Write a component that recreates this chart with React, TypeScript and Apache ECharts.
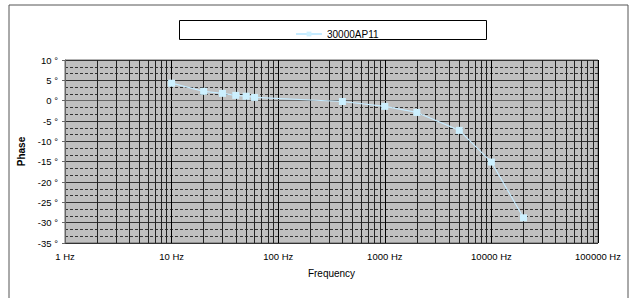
import React, { useEffect, useRef } from "react";
import * as echarts from "echarts";

const seriesName = "30000AP11";
const frequencies = [10, 20, 30, 40, 50, 60, 400, 1000, 2000, 5000, 10000, 20000];
const phases = [4.3, 2.3, 1.8, 1.3, 1.1, 0.8, -0.2, -1.4, -2.9, -7.3, -15.1, -28.8];
const minorFreqs: number[] = [];
for (const dec of [1, 10, 100, 1000, 10000]) {
  for (const m of [2, 3, 4, 5, 6, 7, 8, 9]) minorFreqs.push(m * dec);
}

export default function App() {
  const ref = useRef<HTMLDivElement>(null);
  useEffect(() => {
    if (!ref.current) return;
    const chart = echarts.init(ref.current, null, { renderer: "svg" });
    const font = "Liberation Sans, Arial, sans-serif";
    chart.setOption({
      animation: false,
      backgroundColor: "#ffffff",
      textStyle: { fontFamily: font },
      graphic: [
        {
          type: "rect",
          shape: { x: 9, y: 5, width: 619, height: 300 },
          style: { fill: "none", stroke: "#555", lineWidth: 1 },
          z: -1,
        },
        {
          type: "rect",
          shape: { x: 179.5, y: 20.5, width: 307, height: 19 },
          style: { fill: "none", stroke: "#000", lineWidth: 1 },
        },
      ],
      legend: {
        data: [seriesName],
        left: 290,
        top: 24,
        itemWidth: 26,
        itemHeight: 6,
        itemGap: 2,
        textStyle: { fontSize: 10, color: "#000", fontFamily: font },
      },
      grid: {
        left: 65,
        right: 35,
        top: 60,
        bottom: 55,
        show: true,
        backgroundColor: "#c0c0c0",
        borderColor: "#666",
        borderWidth: 1,
      },
      xAxis: {
        type: "log",
        logBase: 10,
        min: 1,
        max: 100000,
        name: "Frequency",
        nameLocation: "middle",
        nameGap: 25,
        nameTextStyle: { fontSize: 10, color: "#000", fontFamily: font },
        axisLine: { show: true, lineStyle: { color: "#666" } },
        axisTick: { show: false },
        axisLabel: {
          fontSize: 9.5,
          color: "#000",
          margin: 8,
          formatter: (v: number) => `${v} Hz`,
        },
        splitLine: { show: true, lineStyle: { color: "#000", width: 1 } },
      },
      yAxis: {
        type: "value",
        min: -35,
        max: 10,
        interval: 5,
        name: "Phase",
        nameLocation: "middle",
        nameGap: 28,
        nameRotate: 90,
        nameTextStyle: { fontSize: 10, fontWeight: "bold", color: "#000", fontFamily: font },
        axisLine: { show: true, lineStyle: { color: "#666" } },
        axisTick: { show: true, length: 3, lineStyle: { color: "#666" } },
        axisLabel: {
          fontSize: 9.5,
          color: "#000",
          margin: 7,
          formatter: (v: number) => `${v} °`,
        },
        splitLine: { show: true, lineStyle: { color: "#333", width: 1 } },
        minorTick: { show: false, splitNumber: 3 },
        minorSplitLine: {
          show: true,
          lineStyle: { color: "#333", width: 1, type: [3, 2] },
        },
      },
      series: [
        {
          type: "line",
          name: "grid-minor",
          data: [],
          silent: true,
          z: 1,
          markLine: {
            silent: true,
            symbol: "none",
            label: { show: false },
            lineStyle: { color: "#222", width: 1, type: "solid" },
            data: minorFreqs.map((f) => ({ xAxis: f })),
          },
        },
        {
          type: "line",
          name: seriesName,
          z: 5,
          data: frequencies.map((f, i) => [f, phases[i]]),
          symbol: "rect",
          symbolSize: 7,
          showAllSymbol: true,
          lineStyle: { color: "#c6ebff", width: 1.2, opacity: 1 },
          itemStyle: { color: "#ccf0ff", borderWidth: 0, opacity: 1 },
        },
      ],
    });
    return () => chart.dispose();
  }, []);
  return (
    <div
      ref={ref}
      style={{ position: "fixed", left: 0, top: 0, width: 633, height: 298 }}
    />
  );
}
